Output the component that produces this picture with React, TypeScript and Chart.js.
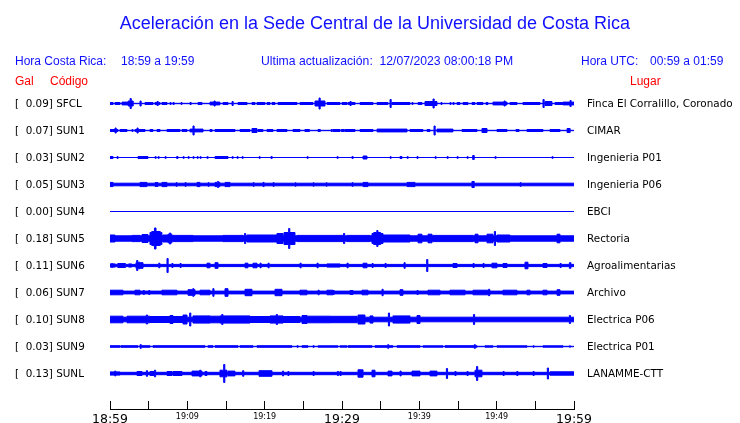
import React, { useEffect, useRef } from "react";
import { Chart, registerables } from "chart.js";
Chart.register(...registerables);

// ---------------- data ----------------
const codes = ["SFCL", "SUN1", "SUN2", "SUN3", "SUN4", "SUN5", "SUN6", "SUN7", "SUN8", "SUN9", "SUNL"];
const pga = [0.09, 0.07, 0.03, 0.05, 0.0, 0.18, 0.11, 0.06, 0.1, 0.03, 0.13];
const places = [
  "Finca El Corralillo, Coronado",
  "CIMAR",
  "Ingenieria P01",
  "Ingenieria P06",
  "EBCI",
  "Rectoria",
  "Agroalimentarias",
  "Archivo",
  "Electrica P06",
  "Electrica P01",
  "LANAMME-CTT",
];
// x ticks every 5 minutes from 18:59, labelled every 10
const timeTicks = ["18:59", "", "19:09", "", "19:19", "", "19:29", "", "19:39", "", "19:49", "", "19:59"];
const bigTicks = ["18:59", "19:29", "19:59"];

// quiet-level half amplitude of each trace
const baseAmp = [0.2, 0.2, 0, 1.3, 0, 2.7, 1.1, 1.4, 2.3, 0.2, 1.2];

// bursts: [start minute, end minute, half amplitude]
const sfcl = [
  [0, 0.4, 1.0], [0.65, 1.3, 1.0], [1.55, 2.35, 1.4], [2.35, 3.0, 2.5], [2.6, 2.75, 5], [3.88, 4.03, 2.5],
  [4.53, 5.56, 1.0], [5.82, 6.47, 1.0], [6.08, 6.23, 2], [6.72, 7.37, 1.0], [7.76, 7.9, 1.0], [8.15, 8.3, 1.0],
  [9.18, 9.3, 1.0], [10.34, 10.5, 1.0], [11.38, 11.9, 1.0], [12.93, 14.22, 1.4], [13.45, 13.6, 2.5], [14.61, 15.26, 1.0],
  [15.78, 15.93, 2], [16.55, 17.72, 1.0], [18.36, 18.75, 1.0], [19.01, 20.04, 1.0], [20.3, 20.69, 1.0],
  [20.95, 21.34, 1.0], [21.72, 24.18, 1.0], [24.57, 26.25, 1.0], [26.51, 27.8, 2.5], [27.03, 27.18, 5.5],
  [28.06, 29.74, 1.0], [30.0, 30.65, 1.0], [30.78, 31.68, 1.0], [31.03, 31.18, 2], [32.33, 34.01, 1.0],
  [34.53, 35.95, 1.0], [36.21, 36.36, 4], [36.47, 38.79, 1.0], [39.05, 39.18, 1.0], [39.83, 40.34, 1.0],
  [40.73, 42.28, 2], [41.77, 41.92, 4.5], [42.8, 42.93, 1.0], [43.97, 44.1, 1.0], [44.35, 44.5, 1.0],
  [44.87, 45.26, 1.0], [45.65, 46.29, 1.0], [46.81, 47.2, 1.0], [47.46, 48.23, 1.0], [48.62, 48.88, 1.0],
  [49.52, 51.34, 1.4], [50.95, 51.1, 2.5], [51.72, 52.63, 1.0], [53.4, 55.6, 1.0], [55.99, 56.14, 4],
  [56.25, 57.15, 2], [57.54, 58.58, 1.0], [58.58, 60, 1.4], [59.48, 59.63, 3],
];
const sun1 = [
  [0, 1.03, 1.0], [0.65, 0.8, 2.5], [1.29, 2.2, 1.0], [2.84, 2.97, 1.0], [3.23, 4.53, 1.0], [3.49, 3.64, 2.5],
  [5.17, 5.56, 1.0], [6.08, 6.47, 1.0], [7.37, 9.05, 1.0], [9.31, 9.96, 1.0], [10.34, 12.03, 1.4], [10.73, 10.88, 4.5],
  [12.93, 13.2, 1.0], [13.58, 16.16, 1.0], [16.81, 18.1, 1.0], [18.36, 19.01, 2], [19.14, 19.78, 1.0],
  [20.3, 21.08, 1.0], [21.59, 22.89, 1.0], [23.66, 24.57, 1.0], [25.2, 25.8, 1.0], [26.9, 27.2, 1.0],
  [28.6, 28.75, 1.0], [28.84, 29.74, 1.0], [29.9, 30.3, 1.0], [30.39, 31.68, 1.0], [32.33, 34.01, 1.0],
  [34.53, 38.41, 1.4], [38.79, 40.47, 1.0], [40.99, 41.38, 1.0], [41.9, 42.05, 4.5], [42.28, 44.35, 1.4],
  [45.52, 47.46, 1.0], [48.1, 48.75, 2], [50.04, 51.34, 1.0], [52.5, 52.9, 1.0], [53.92, 55.99, 1.0],
  [56.9, 58.19, 1.0], [59.1, 59.5, 2],
];
const sun2 = [
  [0, 0.39, 1.0], [0.91, 1.04, 1.0], [3.62, 4.91, 1.0], [5.82, 5.97, 0.8], [6.21, 6.36, 0.8], [7.11, 7.26, 0.8],
  [8.62, 8.79, 1.0], [9.44, 9.59, 0.8], [10.09, 10.24, 0.8], [10.73, 10.88, 0.8], [11.25, 11.4, 0.8],
  [11.64, 11.79, 0.8], [12.54, 12.69, 0.8], [13.58, 15.26, 1.0], [15.78, 15.93, 0.8], [16.42, 16.57, 0.8],
  [17.07, 17.22, 0.8], [19.27, 19.42, 0.8], [20.82, 20.97, 1.0], [25.47, 25.62, 0.8], [29.35, 29.5, 0.8],
  [31.29, 31.44, 1.0], [32.72, 33.23, 1.5], [36.21, 36.36, 0.8], [37.5, 37.76, 1.0], [38.41, 38.56, 0.8],
  [39.7, 39.83, 1.0], [42.03, 42.18, 0.8], [43.58, 43.73, 0.8], [44.87, 45.02, 0.8], [46.16, 46.31, 0.8],
  [46.9, 47.1, 2], [49.78, 49.93, 0.8], [57.15, 57.3, 0.8],
];
const sun3 = [
  [0, 0.4, 2.1], [3.88, 4.78, 2.1], [5.82, 6.21, 1.9], [6.72, 7.37, 2.1], [8.53, 8.68, 1.8], [9.7, 9.85, 1.8],
  [11.25, 11.64, 2.1], [12.67, 12.82, 1.8], [13.58, 14.22, 2.1], [13.9, 14.05, 3], [14.87, 15.52, 2.1],
  [18.49, 18.64, 1.8], [19.78, 19.93, 2.1], [21.08, 21.23, 1.8], [23.92, 24.07, 1.7], [26.25, 26.4, 1.7],
  [27.93, 28.08, 1.7], [31.29, 31.44, 1.8], [32.72, 33.36, 2.1], [38.41, 39.44, 2.1], [46.8, 47.1, 3],
  [53.02, 53.17, 1.8],
];
const sun4: number[][] = [];
const sun5 = [
  [0, 0.65, 3.5], [2.84, 3.88, 3.1], [4.14, 4.91, 4], [5.17, 6.72, 6], [5.4, 6.5, 7], [5.75, 5.95, 10.5],
  [6.85, 7.5, 3.5], [7.5, 8.02, 4.3], [7.7, 7.85, 5.5], [8.15, 10.73, 3.1], [14.61, 17.2, 3.1], [17.4, 17.55, 5],
  [17.72, 21.59, 3.5], [21.59, 22.37, 5], [22.5, 23.92, 6], [23.1, 23.25, 10], [24.18, 30.13, 3.1],
  [30.2, 30.35, 5], [30.65, 33.62, 3.1], [33.88, 35.3, 5], [34.1, 35.0, 6], [34.5, 34.65, 8], [35.3, 38.79, 3.5],
  [39.83, 40.34, 4.3], [41.12, 41.64, 4.3], [41.77, 46.94, 3.1], [47.2, 47.59, 4.3], [48.75, 49.52, 4.3],
  [49.7, 49.85, 7], [50.04, 51.72, 3.5], [57.8, 58.19, 4.3],
];
const sun6 = [
  [0, 0.7, 1.6], [0.2, 0.35, 2], [1.0, 2.0, 2], [2.4, 2.8, 1.6], [3.36, 4.27, 2.8], [3.45, 3.6, 5],
  [3.7, 3.85, 3.3], [6.3, 6.45, 2.3], [7.37, 7.52, 7], [8.0, 8.15, 2], [9.05, 9.2, 2], [12.54, 12.93, 2.3],
  [13.58, 13.97, 2.8], [17.46, 17.84, 2.3], [18.49, 19.01, 2.3], [19.4, 19.55, 2.3], [20.43, 20.58, 2.3],
  [24.57, 24.72, 2.3], [26.77, 26.92, 2.3], [28.06, 29.74, 1.6], [30.65, 30.8, 2.3], [32.72, 33.23, 2.3],
  [33.88, 34.03, 2], [35.56, 35.71, 2], [38.02, 38.17, 2.8], [40.95, 41.1, 6], [44.35, 44.87, 2],
  [46.94, 47.09, 2], [48.23, 48.38, 2], [49.39, 50.04, 2.3], [50.82, 51.34, 2], [53.66, 54.05, 3.3],
  [55.99, 56.51, 2], [58.19, 58.34, 2], [59.4, 59.6, 2.8],
];
const sun7 = [
  [0, 1.68, 2.3], [3.23, 3.88, 2.3], [4.3, 4.45, 2], [5.0, 5.15, 2], [6.72, 8.66, 2.3], [10.09, 10.99, 2.8],
  [10.7, 10.85, 3.8], [11.64, 12.93, 2.3], [13.3, 13.45, 3.8], [14.87, 15.26, 3.8], [17.46, 18.36, 3.2],
  [21.34, 22.24, 3.2], [24.57, 25.47, 2.3], [26.9, 27.05, 2.3], [28.06, 28.84, 2.3], [28.84, 28.99, 2],
  [31.03, 31.42, 2], [32.59, 33.36, 2.3], [35.17, 35.32, 3.2], [37.5, 37.89, 2.8], [39.7, 39.85, 2],
  [41.12, 42.67, 2.3], [43.97, 45.91, 2.3], [46.94, 49.14, 2.3], [48.95, 49.1, 3.2], [50.82, 52.63, 2.3],
  [53.92, 54.31, 2.3], [55.99, 56.51, 2.3], [57.8, 58.19, 2.8],
];
const sun8 = [
  [0, 1.68, 3.3], [2.2, 5.17, 3.3], [4.7, 4.85, 4.5], [5.17, 9.96, 3], [7.76, 8.15, 4], [9.44, 9.96, 4.5],
  [10.3, 10.45, 6.5], [10.73, 12.93, 3.6], [12.93, 14.22, 3.3], [14.22, 18.1, 3.6], [14.45, 14.6, 5],
  [18.1, 20.69, 3], [20.69, 22.37, 3.6], [21.5, 21.65, 5], [22.37, 24.57, 3], [24.83, 25.47, 4],
  [25.47, 28.45, 3.3], [28.45, 31.94, 3.2], [32.07, 32.97, 4.5], [33.62, 34.01, 3.6], [36.0, 36.15, 6.5],
  [36.59, 38.79, 3.6], [39.7, 40.09, 4], [47.0, 47.15, 5], [59.4, 59.55, 4],
];
const sun9 = [
  [0, 1.29, 0.8], [1.4, 3.62, 0.8], [3.88, 4.05, 1.8], [4.14, 5.17, 0.8], [5.56, 7.5, 0.8], [7.5, 12.28, 0.8],
  [12.67, 13.32, 0.8], [13.58, 16.55, 0.8], [16.81, 18.49, 0.8], [19.01, 23.53, 0.8], [24.18, 24.33, 0.8],
  [24.83, 25.6, 0.8], [26.25, 26.4, 0.8], [26.9, 29.48, 0.7], [29.74, 30.65, 0.7], [30.78, 33.88, 0.8],
  [34.27, 36.59, 0.8], [35.9, 36.05, 1.8], [37.11, 40.09, 0.8], [40.47, 43.06, 0.7], [43.32, 47.46, 0.8],
  [47.1, 47.25, 1.8], [48.49, 49.52, 0.7], [50.04, 53.92, 0.7], [54.7, 54.85, 0.7], [55.99, 58.58, 0.7],
  [59.4, 59.55, 0.7],
];
const sunl = [
  [0, 1.29, 1.6], [0.6, 0.75, 2.4], [3.49, 4.14, 2], [4.7, 4.85, 2.8], [5.17, 5.82, 2], [5.75, 5.9, 3.3],
  [7.37, 8.02, 2], [8.15, 9.31, 2], [10.6, 11.9, 2.4], [11.6, 11.75, 3.3], [12.28, 12.54, 2],
  [14.22, 15.13, 3.3], [14.7, 14.85, 9], [15.26, 16.16, 2.4], [17.15, 17.3, 2.8], [19.27, 20.95, 2.8],
  [22.3, 22.45, 2.4], [23.0, 23.15, 2], [26.25, 26.4, 2], [29.4, 29.55, 2], [29.74, 29.89, 2],
  [32.07, 32.72, 3.7], [33.88, 34.27, 3.3], [35.95, 36.47, 2.4], [37.5, 37.65, 2.4], [39.05, 40.09, 2.4],
  [41.38, 42.28, 2.4], [43.5, 43.65, 5], [44.6, 44.75, 2], [46.16, 46.31, 2], [47.2, 48.1, 3.3],
  [47.4, 47.55, 7], [50.82, 50.97, 2], [52.6, 52.75, 2], [54.7, 54.85, 2], [56.55, 56.7, 5.5],
  [56.9, 60, 1.7],
];
const bursts = [sfcl, sun1, sun2, sun3, sun4, sun5, sun6, sun7, sun8, sun9, sunl];

// ---------------- layout / style ----------------
const TRACE = "#0000ff";
const TEXT_BLUE = "#1010ff";
const RED = "#ff0000";
const ROW0 = 13.5;
const ROWSTEP = 27;
const YMAX = 311;
const T_END = 60;

function envelope(base: number, events: number[][]) {
  const cuts = new Set<number>([0, T_END]);
  events.forEach(([s, e]) => {
    cuts.add(Math.max(0, Math.min(T_END, s)));
    cuts.add(Math.max(0, Math.min(T_END, e)));
  });
  const xs = Array.from(cuts).sort((a, b) => a - b);
  const pts: [number, number][] = [];
  for (let k = 0; k < xs.length; k++) {
    const probe = k < xs.length - 1 ? xs[k] : xs[k - 1];
    let a = base;
    for (const [s, e, amp] of events) if (probe >= s && probe < e && amp > a) a = amp;
    pts.push([xs[k], a]);
  }
  return pts;
}

const axisLinePlugin = {
  id: "axisLine",
  afterDraw(chart: any) {
    const { ctx, chartArea } = chart;
    const xs = chart.scales.x;
    const tl = xs.options.grid.tickLength;
    const y = Math.round(chartArea.bottom + tl) + 0.5;
    ctx.save();
    ctx.strokeStyle = "#000";
    ctx.lineWidth = 1;
    ctx.beginPath();
    ctx.moveTo(Math.round(chartArea.left), y);
    ctx.lineTo(Math.round(chartArea.right) + 1, y);
    ctx.stroke();
    ctx.restore();
  },
};

const rowTicks = (scale: any) => {
  scale.ticks = codes.map((_, i) => ({ value: ROW0 + ROWSTEP * i }));
};

export default function App() {
  const ref = useRef<HTMLCanvasElement | null>(null);

  useEffect(() => {
    document.body.style.margin = "0";
    if (!ref.current) return;
    const datasets: any[] = [];
    codes.forEach((code, i) => {
      const c = ROW0 + ROWSTEP * i;
      const env = envelope(baseAmp[i], bursts[i]);
      const common = {
        stepped: true,
        borderColor: TRACE,
        backgroundColor: TRACE,
        borderWidth: 1,
        pointRadius: 0,
        tension: 0,
      };
      datasets.push({ ...common, label: code + "+", data: env.map(([x, a]) => ({ x, y: c - a })), fill: false });
      datasets.push({ ...common, label: code + "-", data: env.map(([x, a]) => ({ x, y: c + a })), fill: "-1" });
    });

    const chart = new Chart(ref.current, {
      type: "line",
      data: { datasets },
      plugins: [axisLinePlugin],
      options: {
        animation: false,
        responsive: false,
        maintainAspectRatio: false,
        events: [],
        layout: { padding: { left: 15, right: 0, top: 90, bottom: 0 } },
        plugins: { legend: { display: false }, tooltip: { enabled: false }, title: { display: false } },
        scales: {
          x: {
            type: "linear",
            min: 0,
            max: T_END,
            afterFit: (s: any) => {
              s.height = 22;
            },
            border: { display: false },
            grid: { display: true, drawOnChartArea: false, drawTicks: true, tickLength: 8, color: "#000", lineWidth: 1 },
            ticks: {
              stepSize: 5,
              autoSkip: false,
              maxRotation: 0,
              minRotation: 0,
              padding: 4,
              color: "#000",
              font: (ctx: any) => {
                const lbl = timeTicks[Math.round((ctx.tick ? ctx.tick.value : 0) / 5)] || "";
                return bigTicks.includes(lbl)
                  ? { family: "DejaVu Sans", size: 12.5, lineHeight: 1 }
                  : { family: "DejaVu Sans", size: 8, lineHeight: 1 };
              },
              callback: (v: any) => timeTicks[Math.round(Number(v) / 5)] || "",
            },
          },
          y: {
            type: "linear",
            position: "left",
            min: 0,
            max: YMAX,
            reverse: true,
            afterBuildTicks: rowTicks,
            afterFit: (s: any) => {
              s.width = 95;
            },
            border: { display: false },
            grid: { display: false, drawTicks: false },
            ticks: {
              autoSkip: false,
              crossAlign: "far",
              padding: 0,
              labelOffset: 1,
              color: "#000",
              font: { family: "DejaVu Sans", size: 10.4 },
              callback: (_v: any, i: number) => `[  ${pga[i].toFixed(2)}] ${codes[i]}`,
            },
          },
          y2: {
            type: "linear",
            position: "right",
            min: 0,
            max: YMAX,
            reverse: true,
            afterBuildTicks: rowTicks,
            afterFit: (s: any) => {
              s.width = 166;
            },
            border: { display: false },
            grid: { display: false, drawTicks: false },
            ticks: {
              autoSkip: false,
              crossAlign: "near",
              padding: 13,
              labelOffset: 1,
              color: "#000",
              font: { family: "DejaVu Sans", size: 10.4 },
              callback: (_v: any, i: number) => places[i],
            },
          },
        },
      } as any,
    });
    return () => chart.destroy();
  }, []);

  const hFont = "'Liberation Sans', Arial, sans-serif";
  const span = (left: number, top: number, size: number, color: string, text: string, extra: any = {}) => (
    <div
      style={{
        position: "absolute",
        left,
        top,
        fontFamily: hFont,
        fontSize: size,
        lineHeight: `${size}px`,
        color,
        whiteSpace: "pre",
        ...extra,
      }}
    >
      {text}
    </div>
  );

  return (
    <div style={{ position: "absolute", left: 0, top: 0, width: 740, height: 423, background: "#fff" }}>
      <canvas ref={ref} width={740} height={423} style={{ display: "block", position: "absolute", left: 0, top: 0 }} />
      {span(0, 13.6, 18, TEXT_BLUE, "Aceleración en la Sede Central de la Universidad de Costa Rica", {
        width: 750,
        textAlign: "center",
      })}
      {span(15, 54.8, 12, TEXT_BLUE, "Hora Costa Rica:")}
      {span(121, 54.8, 12, TEXT_BLUE, "18:59 a 19:59")}
      {span(261, 54.8, 12.2, TEXT_BLUE, "Ultima actualización:  12/07/2023 08:00:18 PM")}
      {span(581, 54.8, 12, TEXT_BLUE, "Hora UTC:")}
      {span(650, 54.8, 12, TEXT_BLUE, "00:59 a 01:59")}
      {span(15, 74.8, 12, RED, "Gal")}
      {span(50, 74.8, 12, RED, "Código")}
      {span(630, 74.8, 12, RED, "Lugar")}
    </div>
  );
}
